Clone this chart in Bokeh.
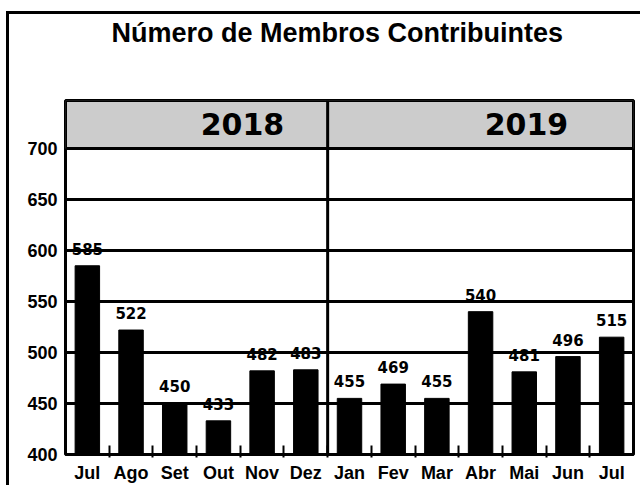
from bokeh.plotting import figure
from bokeh.models import Range1d, FixedTicker, Span, InlineStyleSheet, Title
from bokeh.core.properties import value
from bokeh.embed import file_html
from bokeh.resources import INLINE

# ---- data ----
title_text = "Número de Membros Contribuintes"
months = ["Jul", "Ago", "Set", "Out", "Nov", "Dez",
          "Jan", "Fev", "Mar", "Abr", "Mai", "Jun", "Jul"]
members = [585, 522, 450, 433, 482, 483, 455, 469, 455, 540, 481, 496, 515]
years = ["2018", "2019"]
months_per_year = [6, 7]
y_ticks = [400, 450, 500, 550, 600, 650, 700]

# ---- derived ----
n = len(months)
xs = list(range(n))
y_top = 747
bar_labels = [str(v) for v in members]

frame_css = InlineStyleSheet(css="""
:host { position: relative; overflow: hidden; }
:host::after {
  content: ""; position: absolute; left: 6px; top: 11px;
  right: -20px; bottom: -20px; border: 3px solid black;
  pointer-events: none; z-index: 10;
}
""")

p = figure(width=640, height=485, output_backend="svg", toolbar_location=None,
           x_range=Range1d(-0.5, n - 0.5), y_range=Range1d(y_ticks[0], y_top),
           min_border_left=65, min_border_right=7, min_border_top=100,
           min_border_bottom=31, background_fill_color="white",
           border_fill_color="white", stylesheets=[frame_css])

# real title (outermost panel)
p.title.text = title_text
p.title.text_font = "Liberation Sans"
p.title.text_font_style = "bold"
p.title.text_font_size = "27px"
p.title.text_color = "black"
p.title.align = "left"
p.title.offset = 46
p.title.standoff = 0
p.title.vertical_align = "top"

# spacer panel between the title and the frame
p.add_layout(Title(text=" ", text_font_size="1px", standoff=48), "above")

# frame
p.outline_line_color = "black"
p.outline_line_width = 3
p.outline_line_alpha = 1

# grid
p.xgrid.visible = False
p.ygrid.ticker = FixedTicker(ticks=y_ticks)
p.ygrid.grid_line_color = "black"
p.ygrid.grid_line_width = 3
p.ygrid.grid_line_alpha = 1

# y axis
p.yaxis.ticker = FixedTicker(ticks=y_ticks)
p.yaxis.major_tick_line_color = None
p.yaxis.major_tick_in = 0
p.yaxis.major_tick_out = 0
p.yaxis.minor_tick_line_color = None
p.yaxis.axis_line_color = None
p.yaxis.major_label_standoff = 8
p.yaxis.major_label_text_font = "Liberation Sans"
p.yaxis.major_label_text_font_style = "bold"
p.yaxis.major_label_text_font_size = "18px"
p.yaxis.major_label_text_color = "black"

# x axis
boundaries = [i + 0.5 for i in range(n - 1)]
p.xaxis.ticker = FixedTicker(ticks=xs, minor_ticks=boundaries)
p.xaxis.major_label_overrides = {i: m for i, m in enumerate(months)}
p.xaxis.major_tick_line_color = None
p.xaxis.major_tick_in = 0
p.xaxis.major_tick_out = 0
p.xaxis.minor_tick_line_color = "black"
p.xaxis.minor_tick_line_width = 2
p.xaxis.minor_tick_in = 9
p.xaxis.minor_tick_out = 3
p.xaxis.axis_line_color = "black"
p.xaxis.axis_line_width = 3
p.xaxis.major_label_standoff = 5
p.xaxis.major_label_text_font = "Liberation Sans"
p.xaxis.major_label_text_font_style = "bold"
p.xaxis.major_label_text_font_size = "18px"
p.xaxis.major_label_text_color = "black"

# header band with years
p.quad(left=-0.5, right=n - 0.5, bottom=y_ticks[-1], top=y_top,
       fill_color="#cccccc", line_color="black", line_width=3)

year_x = []
start = -0.5
for cnt in months_per_year:
    year_x.append(start + cnt / 2 + 1.05)
    start += cnt
p.text(x=year_x, y=[(y_ticks[-1] + y_top) / 2] * len(years), text=years,
       text_font=value("DejaVu Sans"), text_font_style="bold",
       text_font_size="30px", text_align="center", text_baseline="middle",
       text_color="black")

# bars
p.vbar(x=xs, top=members, bottom=y_ticks[0], width=0.56,
       fill_color="black", line_color="black")

p.text(x=xs, y=members, text=bar_labels, text_font=value("DejaVu Sans"),
       text_font_style="bold", text_font_size="15px", text_align="center",
       text_baseline="bottom", y_offset=-11, text_color="black")

# divider between years
p.add_layout(Span(location=months_per_year[0] - 0.5, dimension="height",
                  line_color="black", line_width=3))

open("out.html", "w").write(file_html(p, INLINE))
